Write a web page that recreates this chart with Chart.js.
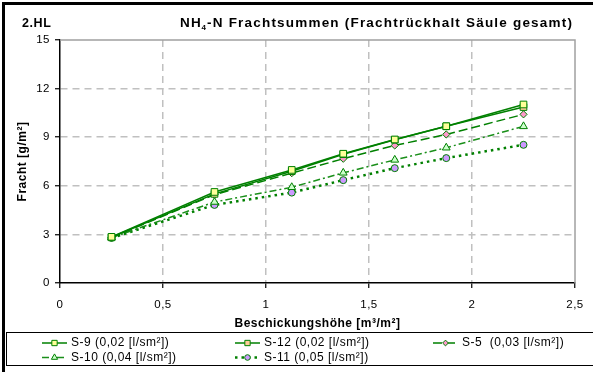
<!DOCTYPE html>
<html><head><meta charset="utf-8">
<script src="https://cdn.jsdelivr.net/npm/chart.js@4/dist/chart.umd.min.js"></script>
<style>html,body{margin:0;padding:0;background:#fff;overflow:hidden}canvas{display:block}</style>
</head><body>
<canvas id="c" width="593" height="372"></canvas>
<script>
// ---- data ----
const xValues = [0.25, 0.75, 1.125, 1.375, 1.625, 1.875, 2.25];
const s9Values  = [2.85, 5.62, 6.98, 7.98, 8.86, 9.68, 11.02];
const s12Values = [2.82, 5.50, 6.90, 7.95, 8.84, 9.67, 10.86];
const s5Values  = [2.80, 5.45, 6.78, 7.67, 8.49, 9.17, 10.41];
const s10Values = [2.80, 5.00, 5.91, 6.80, 7.60, 8.35, 9.67];
const s11Values = [2.78, 4.82, 5.58, 6.35, 7.09, 7.71, 8.53];
const seriesLabels = ['S-9 (0,02 [l/sm²])', 'S-12 (0,02 [l/sm²])', 'S-5  (0,03 [l/sm²])', 'S-10 (0,04 [l/sm²])', 'S-11 (0,05 [l/sm²])'];
const xTickLabels = ['0', '0,5', '1', '1,5', '2', '2,5'];
const yTickLabels = ['0', '3', '6', '9', '12', '15'];
const chartTitleMain = 'NH';
const chartTitleSub = '4';
const chartTitleRest = '-N Frachtsummen (Frachtrückhalt Säule gesamt)';
const cornerLabel = '2.HL';
const xAxisTitle = 'Beschickungshöhe [m³/m²]';
const yAxisTitle = 'Fracht [g/m²]';

const FONT = '"Liberation Sans", Arial, sans-serif';
const GREEN = '#008000';
const toPts = vals => xValues.map((x, i) => ({x, y: vals[i]}));

function ds(label, vals, opts) {
  return Object.assign({
    label, data: toPts(vals),
    borderColor: GREEN, borderWidth: 1.5, tension: 0, fill: false,
    pointBorderColor: GREEN, pointBorderWidth: 1, pointRadius: 3.5, pointHoverRadius: 3.5
  }, opts);
}

const datasets = [
  ds(seriesLabels[0], s9Values,  {pointStyle: 'rect', pointBackgroundColor: '#FFFF99', pointRadius: 4.7}),
  ds(seriesLabels[1], s12Values, {pointStyle: 'rect', pointBackgroundColor: '#FFCC99', pointRadius: 4.7}),
  ds(seriesLabels[2], s5Values,  {pointStyle: 'rectRot', pointBackgroundColor: '#FF99CC', borderDash: [9, 4], pointRadius: 3.6}),
  ds(seriesLabels[3], s10Values, {pointStyle: 'triangle', pointBackgroundColor: '#CCFFCC', borderDash: [7, 3, 2, 3], borderColor: '#1a8f1a', pointRadius: 4.5}),
  ds(seriesLabels[4], s11Values, {pointStyle: 'circle', pointBackgroundColor: '#CC99FF', borderDash: [2.5, 4], borderWidth: 2.5, pointRadius: 3.5})
];

const decorPlugin = {
  id: 'decor',
  beforeDraw(chart) {
    const ctx = chart.ctx;
    ctx.save();
    ctx.fillStyle = '#fff';
    ctx.fillRect(0, 0, chart.width, chart.height);
    ctx.restore();
    ctx.letterSpacing = '0.5px';
  },
  beforeDatasetsDraw(chart) {
    const {ctx, chartArea: a} = chart;
    ctx.save();
    ctx.strokeStyle = '#a0a0a0';
    ctx.lineWidth = 1.5;
    ctx.beginPath();
    ctx.moveTo(a.left, a.top);
    ctx.lineTo(a.right, a.top);
    ctx.lineTo(a.right, a.bottom);
    ctx.stroke();
    ctx.restore();
  },
  afterDraw(chart) {
    const ctx = chart.ctx;
    ctx.save();
    // outer chart border (top + left)
    ctx.strokeStyle = '#000';
    ctx.lineWidth = 3;
    ctx.beginPath();
    ctx.moveTo(3.5, 400);
    ctx.lineTo(3.5, 3.5);
    ctx.lineTo(600, 3.5);
    ctx.stroke();

    // corner label + title
    ctx.fillStyle = '#000';
    ctx.textBaseline = 'alphabetic';
    ctx.textAlign = 'left';
    ctx.letterSpacing = '0.6px';
    ctx.font = 'bold 12.5px ' + FONT;
    ctx.fillText(cornerLabel, 22, 27);
    ctx.letterSpacing = '1.2px';
    let x = 180;
    const by = 27;
    ctx.font = 'bold 13.5px ' + FONT;
    ctx.fillText(chartTitleMain, x, by);
    x += ctx.measureText(chartTitleMain).width;
    ctx.font = 'bold 8px ' + FONT;
    ctx.fillText(chartTitleSub, x - 0.5, by + 2.5);
    x += ctx.measureText(chartTitleSub).width;
    ctx.font = 'bold 13.5px ' + FONT;
    ctx.fillText(chartTitleRest, x - 0.5, by);

    // legend box
    ctx.letterSpacing = '0.5px';
    ctx.strokeStyle = '#000';
    ctx.lineWidth = 1;
    ctx.strokeRect(6.5, 332.5, 600, 33);

    const pos = [[42, 343], [235, 343], [433, 343], [42, 357.5], [235, 357.5]];
    chart.data.datasets.forEach((d, i) => {
      const [lx, ly] = pos[i];
      ctx.save();
      ctx.strokeStyle = d.borderColor;
      ctx.lineWidth = d.borderWidth;
      ctx.setLineDash(d.borderDash || []);
      ctx.beginPath();
      ctx.moveTo(lx, ly);
      ctx.lineTo(lx + 25, ly);
      ctx.stroke();
      ctx.setLineDash([]);
      ctx.fillStyle = d.pointBackgroundColor;
      ctx.strokeStyle = d.pointBorderColor;
      ctx.lineWidth = 1;
      Chart.helpers.drawPoint(ctx, {pointStyle: d.pointStyle, rotation: 0, radius: d.pointRadius * 0.8, borderWidth: 1}, lx + 12.5, ly);
      ctx.restore();
      ctx.fillStyle = '#000';
      ctx.font = '12px ' + FONT;
      ctx.textBaseline = 'middle';
      ctx.fillText(d.label, lx + 29, ly);
    });
    ctx.restore();
  }
};

new Chart(document.getElementById('c'), {
  type: 'line',
  data: {datasets},
  plugins: [decorPlugin],
  options: {
    responsive: false,
    animation: false,
    devicePixelRatio: 1,
    layout: {padding: {left: 0, top: 40, right: 17, bottom: 0}},
    plugins: {legend: {display: false}, tooltip: {enabled: false}, title: {display: false}},
    scales: {
      x: {
        type: 'linear', min: 0, max: 2.5,
        afterFit: s => { s.height = 89; },
        ticks: {
          stepSize: 0.5, color: '#000', padding: 10,
          font: {family: FONT, size: 11.5},
          callback: v => xTickLabels[Math.round(v / 0.5)]
        },
        grid: {
          color: c => (c.tick && (c.tick.value === 0 || c.tick.value === 2.5)) ? 'rgba(0,0,0,0)' : '#c0c0c0',
          lineWidth: 1.5, tickColor: '#000', tickLength: 5, tickWidth: 1.2, tickBorderDash: []
        },
        border: {display: true, color: '#000', width: 1.5, dash: [7, 5]},
        title: {display: true, text: xAxisTitle, color: '#000', font: {family: FONT, size: 12, weight: 'bold'}, padding: {top: 0, bottom: 41}}
      },
      y: {
        min: 0, max: 15,
        afterFit: s => { s.width = 60; },
        ticks: {
          stepSize: 3, color: '#000', padding: 5,
          font: {family: FONT, size: 11.5},
          callback: v => yTickLabels[Math.round(v / 3)]
        },
        grid: {
          color: c => (c.tick && (c.tick.value === 0 || c.tick.value === 15)) ? 'rgba(0,0,0,0)' : '#c0c0c0',
          lineWidth: 1.5, tickColor: '#000', tickLength: 5, tickWidth: 1.2, tickBorderDash: []
        },
        border: {display: true, color: '#000', width: 1.5, dash: [7, 5]},
        title: {display: true, text: yAxisTitle, color: '#000', font: {family: FONT, size: 12, weight: 'bold'}, padding: {top: 15.5, bottom: 0}}
      }
    }
  }
});
</script>
</body></html>
